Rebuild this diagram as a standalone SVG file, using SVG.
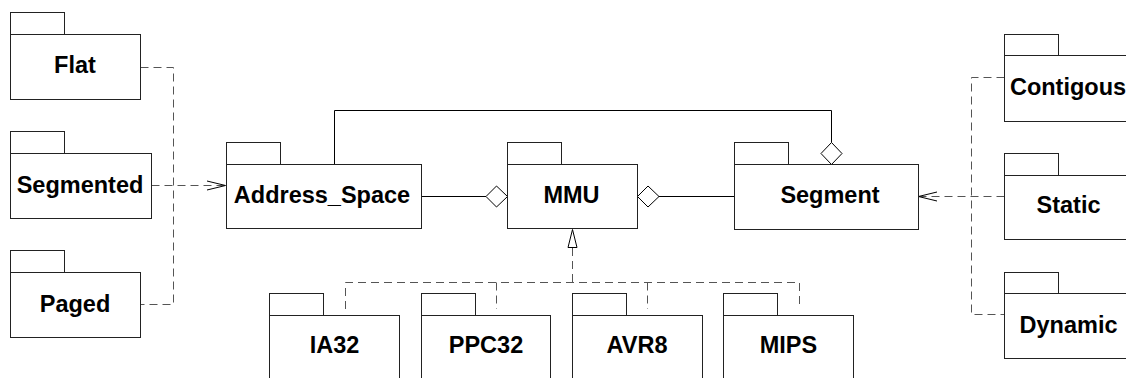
<svg xmlns="http://www.w3.org/2000/svg" width="1126" height="378" viewBox="0 0 1126 378">
<style>
.pk{fill:#fff;stroke:#222;stroke-width:1}
.lbl{font-family:"Liberation Sans",Arial,Helvetica,sans-serif;font-weight:bold;font-size:23.5px;text-anchor:middle;fill:#000}
.dash{fill:none;stroke:#555;stroke-width:1;stroke-dasharray:8 5}
.solid{fill:none;stroke:#000;stroke-width:1}
.hollow{fill:#fff;stroke:#000;stroke-width:1}
</style>
<rect width="1126" height="378" fill="#fff"/>
<g id="connectors">
  <path class="dash" d="M140.5,67.5 H173.5 V304.5 H140.5"/>
  <path class="dash" d="M151.5,185.5 H225.5"/>
  <path class="solid" d="M207,181 L225.5,185.5 L207,190"/>
  <path class="dash" d="M1004.5,77.5 H971.5 V314.5 H1004.5"/>
  <path class="dash" d="M1004.5,196.5 H918.5"/>
  <path class="solid" d="M937,192 L918.5,196.5 L937,201"/>
  <path class="solid" d="M421.5,196.5 H486"/>
  <path class="hollow" d="M486,196.5 L496.5,186 L507.5,196.5 L496.5,207 Z"/>
  <path class="solid" d="M659,196.5 H734.5"/>
  <path class="hollow" d="M637.5,196.5 L648,186 L659,196.5 L648,207 Z"/>
  <path class="solid" d="M334.5,164.5 V110.5 H831.5 V142.5"/>
  <path class="hollow" d="M831.5,142.5 L842,153.5 L831.5,164.5 L821,153.5 Z"/>
  <path class="dash" d="M572.5,248 V282.5"/>
  <path class="hollow" d="M572.5,229.5 L577,247.5 L568,247.5 Z"/>
  <path class="dash" d="M345.5,309 V282.5 H799.5 V309"/>
  <path class="dash" d="M496.5,282.5 V309"/>
  <path class="dash" d="M647.5,282.5 V309"/>
</g>
<g id="Flat"><rect class="pk" x="10.5" y="12.5" width="54" height="22"/><rect class="pk" x="10.5" y="34.5" width="130" height="65"/><text class="lbl" x="75" y="73">Flat</text></g>
<g id="Segmented"><rect class="pk" x="10.5" y="131.5" width="54" height="22"/><rect class="pk" x="10.5" y="153.5" width="141" height="65"/><text class="lbl" x="80" y="193">Segmented</text></g>
<g id="Paged"><rect class="pk" x="10.5" y="250.5" width="54" height="22"/><rect class="pk" x="10.5" y="272.5" width="130" height="65"/><text class="lbl" x="75" y="312">Paged</text></g>
<g id="Address_Space"><rect class="pk" x="226.5" y="142.5" width="54" height="22"/><rect class="pk" x="226.5" y="164.5" width="195" height="64"/><text class="lbl" x="322" y="203">Address_Space</text></g>
<g id="MMU"><rect class="pk" x="507.5" y="142.5" width="54" height="22"/><rect class="pk" x="507.5" y="164.5" width="130" height="64"/><text class="lbl" x="571.5" y="203">MMU</text></g>
<g id="Segment"><rect class="pk" x="734.5" y="142.5" width="54" height="22"/><rect class="pk" x="734.5" y="164.5" width="184" height="65"/><text class="lbl" x="830" y="203">Segment</text></g>
<g id="Contigous"><rect class="pk" x="1004.5" y="34.5" width="54" height="21"/><rect class="pk" x="1004.5" y="55.5" width="130" height="66"/><text class="lbl" x="1068" y="95">Contigous</text></g>
<g id="Static"><rect class="pk" x="1004.5" y="153.5" width="54" height="22"/><rect class="pk" x="1004.5" y="175.5" width="130" height="64"/><text class="lbl" x="1068.5" y="213">Static</text></g>
<g id="Dynamic"><rect class="pk" x="1004.5" y="272.5" width="54" height="21"/><rect class="pk" x="1004.5" y="293.5" width="130" height="65"/><text class="lbl" x="1068.5" y="333">Dynamic</text></g>
<g id="IA32"><rect class="pk" x="269.5" y="293.5" width="54" height="22"/><rect class="pk" x="269.5" y="315.5" width="130" height="65"/><text class="lbl" x="334.5" y="353">IA32</text></g>
<g id="PPC32"><rect class="pk" x="421.5" y="293.5" width="54" height="22"/><rect class="pk" x="421.5" y="315.5" width="129" height="65"/><text class="lbl" x="486" y="353">PPC32</text></g>
<g id="AVR8"><rect class="pk" x="572.5" y="293.5" width="54" height="22"/><rect class="pk" x="572.5" y="315.5" width="130" height="65"/><text class="lbl" x="637" y="353">AVR8</text></g>
<g id="MIPS"><rect class="pk" x="723.5" y="293.5" width="54" height="22"/><rect class="pk" x="723.5" y="315.5" width="130" height="65"/><text class="lbl" x="788.5" y="353">MIPS</text></g>
</svg>
